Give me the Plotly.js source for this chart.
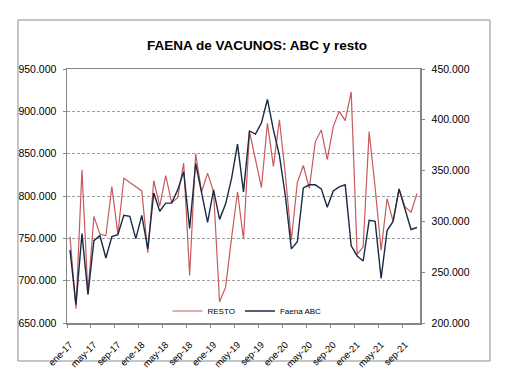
<!DOCTYPE html>
<html>
<head>
<meta charset="utf-8">
<script src="https://cdn.plot.ly/plotly-3.0.1.min.js"></script>
<style>html,body{margin:0;padding:0;background:#fff;}#chart{width:507px;height:383px;}</style>
</head>
<body>
<div id="chart"></div>
<script>
// Month categories (ene-17 .. nov-21)
const months = [
  "ene-17","feb-17","mar-17","abr-17","may-17","jun-17","jul-17","ago-17","sep-17","oct-17","nov-17","dic-17",
  "ene-18","feb-18","mar-18","abr-18","may-18","jun-18","jul-18","ago-18","sep-18","oct-18","nov-18","dic-18",
  "ene-19","feb-19","mar-19","abr-19","may-19","jun-19","jul-19","ago-19","sep-19","oct-19","nov-19","dic-19",
  "ene-20","feb-20","mar-20","abr-20","may-20","jun-20","jul-20","ago-20","sep-20","oct-20","nov-20","dic-20",
  "ene-21","feb-21","mar-21","abr-21","may-21","jun-21","jul-21","ago-21","sep-21","oct-21","nov-21"
];

// RESTO (left axis), head
const resto = [
  752000,667000,831000,685000,776000,755000,753000,811000,755000,821000,816000,811000,
  806000,733000,818000,788000,824000,792000,798000,839000,706000,850000,805000,827000,
  805000,675000,692000,750000,805000,749000,876000,843000,810000,886000,835000,890000,
  825000,748000,816000,836000,809000,864000,878000,843000,882000,900000,889000,923000,
  731000,740000,876000,810000,736000,797000,770000,808000,787000,781000,803000
];

// Faena ABC (right axis), head
const abc = [
  272000,218000,288000,228000,281000,286000,264000,285000,287000,306000,305000,283000,
  306000,273000,328000,310000,318000,318000,331000,349000,293000,357000,328000,299000,
  331000,302000,317000,342000,376000,329000,389000,386000,397000,420000,390000,365000,
  325000,273000,280000,333000,336000,336000,332000,314000,330000,334000,336000,276000,
  266000,261000,301000,300000,244000,291000,300000,332000,312000,292000,294000
];

const tickEvery = 4;
const xIdx = months.map((m, i) => i);
const tickVals = xIdx.filter(i => i % tickEvery === 0);
const tickText = tickVals.map(i => months[i]);

const FONT = "Liberation Sans, Arial, sans-serif";

const traces = [
  {
    x: xIdx, y: resto, name: "RESTO", type: "scatter", mode: "lines",
    line: {color: "#C65A5C", width: 1.2}, yaxis: "y"
  },
  {
    x: xIdx, y: abc, name: "Faena ABC", type: "scatter", mode: "lines",
    line: {color: "#1B2A44", width: 1.4}, yaxis: "y2"
  }
];

// plot area pixel box: left 67, right 420, top 69, bottom 323
const L = 67, R = 420, T = 69, B = 323, W = 507, H = 383;
const px = v => (v - L) / (R - L);
const py = v => (B - v) / (B - T);

const layout = {
  width: W, height: H,
  margin: {l: L, r: W - R, t: T, b: H - B, pad: 0},
  paper_bgcolor: "#ffffff",
  plot_bgcolor: "#ffffff",
  separators: ",.",
  font: {family: FONT, size: 10, color: "#000"},
  showlegend: true,
  title: {
    text: "<b>FAENA de VACUNOS: ABC y resto</b>",
    font: {family: FONT, size: 13.5, color: "#000"},
    xref: "container", x: 257 / W, xanchor: "center",
    yref: "container", y: 1 - 45 / H, yanchor: "middle"
  },
  xaxis: {
    type: "linear",
    range: [-0.5, xIdx.length - 0.5],
    tickmode: "array", tickvals: tickVals, ticktext: tickText,
    tickangle: -45, ticks: "", ticklabelstandoff: 11,
    tickfont: {family: FONT, size: 9.5, color: "#000"},
    showgrid: false, zeroline: false,
    showline: true, mirror: true, linecolor: "#868686", linewidth: 1.5,
    minor: {tick0: -0.5, dtick: tickEvery, ticks: "outside", ticklen: 3, tickcolor: "#868686", tickwidth: 1}
  },
  yaxis: {
    range: [650000, 950000], dtick: 50000, tick0: 650000,
    tickformat: ",d",
    tickfont: {family: FONT, size: 10.5, color: "#000"},
    ticks: "outside", ticklen: 3, tickcolor: "#868686",
    ticklabelstandoff: 4,
    showgrid: true, gridcolor: "#a0a0a0", gridwidth: 1, griddash: "3px,2px",
    zeroline: false,
    showline: true, mirror: true, linecolor: "#868686", linewidth: 1.5
  },
  yaxis2: {
    overlaying: "y", side: "right",
    range: [200000, 450000], dtick: 50000, tick0: 200000,
    tickformat: ",d",
    tickfont: {family: FONT, size: 10.5, color: "#000"},
    ticks: "outside", ticklen: 3, tickcolor: "#868686",
    ticklabelstandoff: 5,
    showgrid: false, zeroline: false,
    showline: true, linecolor: "#868686", linewidth: 1.5
  },
  legend: {
    orientation: "h",
    x: px(247), xanchor: "center",
    y: py(311), yanchor: "middle",
    bgcolor: "rgba(0,0,0,0)",
    font: {family: FONT, size: 8, color: "#000"},
    itemwidth: 30
  },
  shapes: [
    {type: "rect", xref: "paper", yref: "paper",
     x0: px(18), x1: px(490), y0: py(361), y1: py(20),
     line: {color: "#8c8c8c", width: 1}, fillcolor: "rgba(0,0,0,0)", layer: "below"}
  ]
};

Plotly.newPlot("chart", traces, layout, {displayModeBar: false, staticPlot: true});
</script>
</body>
</html>
